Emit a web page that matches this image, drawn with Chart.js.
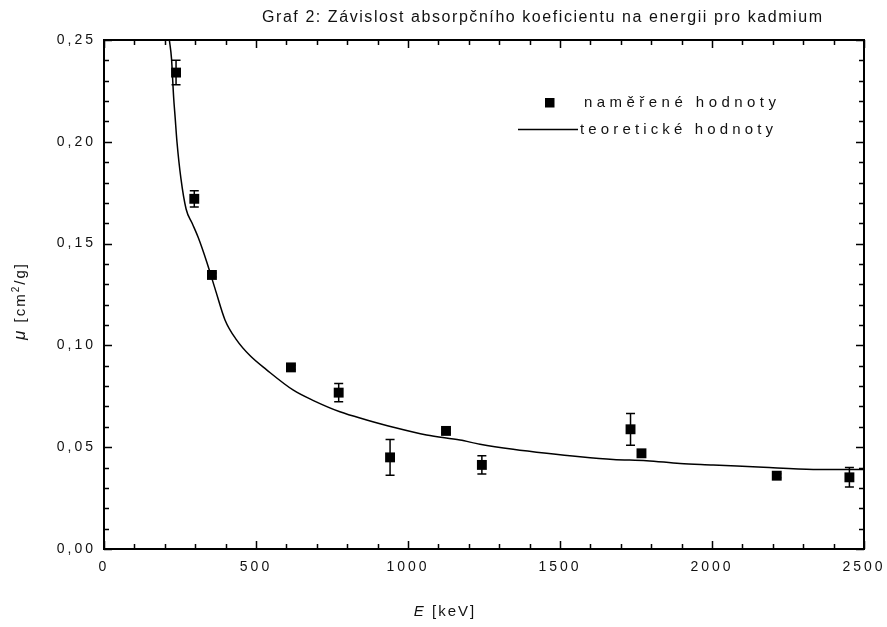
<!DOCTYPE html>
<html>
<head>
<meta charset="utf-8">
<script src="https://cdn.jsdelivr.net/npm/chart.js@4.4.0/dist/chart.umd.min.js"></script>
<style>
  html, body { margin: 0; padding: 0; background: #fff; }
</style>
</head>
<body>
<canvas id="chart" width="887" height="627"></canvas>
<script>
// Measured values (E in keV, mu in cm2/g) with error bars
const energy = [237, 297, 355, 615, 772, 941, 1125, 1243, 1732, 1768, 2213, 2452];
const mu = [0.234, 0.172, 0.1346, 0.0892, 0.0768, 0.0450, 0.0580, 0.0413, 0.0588, 0.0470, 0.0360, 0.0352];
const muError = [0.006, 0.004, 0.001, 0.001, 0.0045, 0.0088, 0.001, 0.0045, 0.0078, 0.001, 0.001, 0.0048];

// Theoretical curve
const theoryEnergy = [215, 222, 229, 234, 240, 253, 270, 290, 310, 338, 365, 398, 436, 480, 535, 623, 689, 776, 864, 952, 1061, 1171, 1237, 1346, 1456, 1566, 1675, 1785, 1895, 2004, 2169, 2333, 2500];
const theoryMu = [0.250, 0.241, 0.222, 0.212, 0.200, 0.182, 0.167, 0.160, 0.153, 0.141, 0.128, 0.1125, 0.1027, 0.095, 0.088, 0.078, 0.0729, 0.0674, 0.0634, 0.0598, 0.056, 0.0535, 0.0515, 0.049, 0.047, 0.0453, 0.044, 0.0434, 0.042, 0.0413, 0.0401, 0.0391, 0.039];

const xTicks = [0, 500, 1000, 1500, 2000, 2500];
const yTicks = [0, 0.05, 0.10, 0.15, 0.20, 0.25];
const xMinorStep = 100;
const yMinorStep = 0.01;

const titleText = 'Graf 2: Závislost absorpčního koeficientu na energii pro kadmium';
const measuredLabel = 'naměřené hodnoty';
const theoryLabel = 'teoretické hodnoty';

const FONT = '"Liberation Sans", Arial, sans-serif';

// draw text stretched with letter spacing so it fills a given width
function spacedText(ctx, text, x, y, width) {
    ctx.letterSpacing = '0px';
    const w = ctx.measureText(text).width;
    const n = [...text].length;
    const sp = Math.max(0, (width - w) / (n - 1));
    ctx.letterSpacing = sp + 'px';
    ctx.fillText(text, x, y);
}

function steps(min, max, step) {
    const out = [];
    const n = Math.round((max - min) / step);
    for (let i = 0; i <= n; i++) out.push(min + i * step);
    return out;
}

const originStyle = {
    id: 'originStyle',
    beforeDraw(chart) {
        chart.ctx.letterSpacing = '3px';
    },
    beforeDatasetsDraw(chart) {
        // error bars under the markers
        const ctx = chart.ctx;
        const xs = chart.scales.x, ys = chart.scales.y;
        ctx.save();
        ctx.strokeStyle = '#000';
        ctx.lineWidth = 1.5;
        energy.forEach((e, i) => {
            const px = xs.getPixelForValue(e);
            const top = ys.getPixelForValue(mu[i] + muError[i]);
            const bot = ys.getPixelForValue(mu[i] - muError[i]);
            ctx.beginPath();
            ctx.moveTo(px, top); ctx.lineTo(px, bot);
            ctx.moveTo(px - 4.5, top); ctx.lineTo(px + 4.5, top);
            ctx.moveTo(px - 4.5, bot); ctx.lineTo(px + 4.5, bot);
            ctx.stroke();
        });
        ctx.restore();
    },
    afterDatasetsDraw(chart) {
        // frame and inward ticks on all four sides
        const ctx = chart.ctx;
        const a = chart.chartArea;
        const xs = chart.scales.x, ys = chart.scales.y;
        ctx.save();
        ctx.strokeStyle = '#000';
        ctx.lineWidth = 1.5;
        ctx.beginPath();
        steps(xs.min, xs.max, xMinorStep).forEach((v, i) => {
            const len = i % 5 === 0 ? 8 : 5;
            const px = Math.round(xs.getPixelForValue(v)) + 0.5;
            ctx.moveTo(px, a.bottom); ctx.lineTo(px, a.bottom - len);
            ctx.moveTo(px, a.top); ctx.lineTo(px, a.top + len);
        });
        steps(ys.min, ys.max, yMinorStep).forEach((v, i) => {
            const len = i % 5 === 0 ? 8 : 5;
            const py = Math.round(ys.getPixelForValue(v)) + 0.5;
            ctx.moveTo(a.left, py); ctx.lineTo(a.left + len, py);
            ctx.moveTo(a.right, py); ctx.lineTo(a.right - len, py);
        });
        ctx.stroke();
        ctx.lineWidth = 2;
        ctx.strokeRect(a.left, a.top, a.right - a.left, a.bottom - a.top);
        ctx.restore();
    },
    afterDraw(chart) {
        const ctx = chart.ctx;
        ctx.save();
        ctx.fillStyle = '#111';
        ctx.textBaseline = 'middle';
        ctx.textAlign = 'left';

        // title
        ctx.font = '16px ' + FONT;
        spacedText(ctx, titleText, 262, 18, 560);

        // legend
        ctx.fillStyle = '#000';
        ctx.fillRect(545, 98, 9.5, 9.5);
        ctx.strokeStyle = '#000';
        ctx.lineWidth = 1.5;
        ctx.beginPath();
        ctx.moveTo(518, 129.5); ctx.lineTo(578, 129.5);
        ctx.stroke();
        ctx.fillStyle = '#111';
        ctx.font = '15px ' + FONT;
        spacedText(ctx, measuredLabel, 584, 103, 192);
        spacedText(ctx, theoryLabel, 580, 130, 193);

        // x axis title: E [keV]
        ctx.letterSpacing = '2px';
        ctx.font = 'italic 15px ' + FONT;
        const eW = ctx.measureText('E').width;
        ctx.font = '15px ' + FONT;
        const restW = ctx.measureText(' [keV]').width;
        let x0 = 445 - (eW + restW) / 2;
        ctx.font = 'italic 15px ' + FONT;
        ctx.fillText('E', x0, 612);
        ctx.font = '15px ' + FONT;
        ctx.fillText(' [keV]', x0 + eW, 612);

        // y axis title: mu [cm2/g], rotated
        ctx.translate(20, 301);
        ctx.rotate(-Math.PI / 2);
        ctx.textBaseline = 'alphabetic';
        const parts = [
            { t: '\u03bc', f: 'italic 17px ' + FONT, dy: 0 },
            { t: ' [cm', f: '15px ' + FONT, dy: 0 },
            { t: '2', f: '10px ' + FONT, dy: -6 },
            { t: '/g]', f: '15px ' + FONT, dy: 0 }
        ];
        let total = 0;
        parts.forEach(p => { ctx.font = p.f; p.w = ctx.measureText(p.t).width; total += p.w; });
        let cx = -total / 2;
        parts.forEach(p => {
            ctx.font = p.f;
            ctx.fillText(p.t, cx, 5 + p.dy);
            cx += p.w;
        });
        ctx.restore();
    }
};

const ctx = document.getElementById('chart');
new Chart(ctx, {
    type: 'scatter',
    data: {
        datasets: [
            {
                label: measuredLabel,
                data: energy.map((e, i) => ({ x: e, y: mu[i] })),
                showLine: false,
                pointStyle: 'rect',
                pointRadius: 7,
                backgroundColor: '#000',
                borderColor: '#000',
                borderWidth: 0
            },
            {
                label: theoryLabel,
                data: theoryEnergy.map((e, i) => ({ x: e, y: theoryMu[i] })),
                showLine: true,
                pointRadius: 0,
                borderColor: '#000',
                borderWidth: 1.5,
                cubicInterpolationMode: 'monotone',
                fill: false
            }
        ]
    },
    options: {
        responsive: false,
        devicePixelRatio: 1,
        animation: false,
        events: [],
        layout: { padding: { top: 40, right: 23, left: 0, bottom: 0 } },
        plugins: {
            legend: { display: false },
            title: { display: false },
            tooltip: { enabled: false }
        },
        scales: {
            x: {
                type: 'linear',
                min: 0,
                max: 2500,
                afterBuildTicks: s => { s.ticks = xTicks.map(v => ({ value: v })); },
                afterFit: s => { s.height = 78; s.paddingLeft = 0; s.paddingRight = 0; },
                grid: { display: false, drawTicks: false },
                border: { display: false },
                ticks: {
                    padding: 10,
                    color: '#111',
                    font: { family: FONT, size: 14 },
                    maxRotation: 0,
                    callback: v => String(v)
                }
            },
            y: {
                type: 'linear',
                min: 0,
                max: 0.25,
                afterBuildTicks: s => { s.ticks = yTicks.map(v => ({ value: v })); },
                afterFit: s => { s.width = 104; },
                grid: { display: false, drawTicks: false },
                border: { display: false },
                ticks: {
                    padding: 8,
                    color: '#111',
                    font: { family: FONT, size: 14 },
                    callback: v => v.toFixed(2).replace('.', ',')
                }
            }
        }
    },
    plugins: [originStyle]
});
</script>
</body>
</html>
